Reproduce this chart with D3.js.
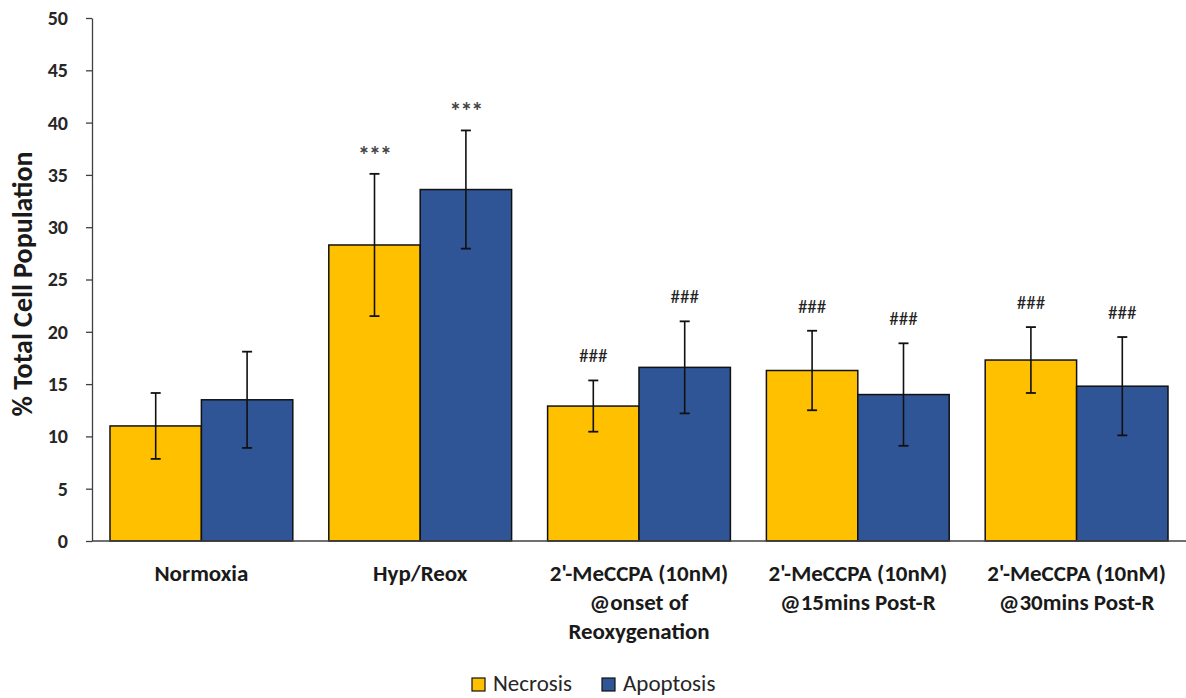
<!DOCTYPE html>
<html><head><meta charset="utf-8">
<script src="https://cdn.jsdelivr.net/npm/d3@7"></script>
<style>
body{margin:0;background:#fff;}
svg text{font-family:Carlito,Calibri,Lato,sans-serif;}
</style></head>
<body><svg id="c" width="1186" height="698"></svg>
<script>
const categories = [
  ["Normoxia"],
  ["Hyp/Reox"],
  ["2'-MeCCPA (10nM)", "@onset of", "Reoxygenation"],
  ["2'-MeCCPA (10nM)", "@15mins Post-R"],
  ["2'-MeCCPA (10nM)", "@30mins Post-R"]
];
const seriesNames = ["Necrosis", "Apoptosis"];
const seriesColors = ["#FFC000", "#2F5597"];
const necrosis = [11.0, 28.3, 12.9, 16.3, 17.3];
const apoptosis = [13.5, 33.6, 16.6, 14.0, 14.8];
const necrosisErr = [3.15, 6.8, 2.45, 3.8, 3.15];
const apoptosisErr = [4.6, 5.65, 4.4, 4.9, 4.7];
const necrosisMark = ["", "***", "###", "###", "###"];
const apoptosisMark = ["", "***", "###", "###", "###"];
const yTicks = [0, 5, 10, 15, 20, 25, 30, 35, 40, 45, 50];

const svg = d3.select("#c");
const mLeft = 92, mRight = 1186, mTop = 18, mBottom = 541;
const FONT = "Carlito,Calibri,Lato,sans-serif";

const x0 = d3.scaleBand().domain(d3.range(categories.length)).range([mLeft, mRight]).paddingInner(0).paddingOuter(0);
const groupPad = 18;
const x1 = d3.scaleBand().domain([0, 1]).range([groupPad, x0.bandwidth() - groupPad]);
const y = d3.scaleLinear().domain([0, 50]).range([mBottom, mTop]);

const data = categories.map((c, i) => ({
  i,
  vals: [
    {s: 0, v: necrosis[i], e: necrosisErr[i], m: necrosisMark[i]},
    {s: 1, v: apoptosis[i], e: apoptosisErr[i], m: apoptosisMark[i]}
  ]
}));

// y axis
const yAxis = d3.axisLeft(y).tickValues(yTicks).tickSize(6).tickSizeOuter(0).tickPadding(18);
const ga = svg.append("g").attr("transform", `translate(${mLeft},0)`).call(yAxis);
ga.select(".domain").attr("stroke", "#404040").attr("stroke-width", 1.3);
ga.selectAll(".tick line").attr("stroke", "#404040").attr("stroke-width", 1.3);
ga.selectAll(".tick text").attr("font-size", 20).attr("font-weight", "bold").attr("fill", "#262626")
  .style("font-family", FONT);

svg.append("text").attr("transform", `translate(32,284) rotate(-90)`)
  .attr("text-anchor", "middle").attr("font-size", 28).attr("font-weight", "bold").attr("fill", "#1a1a1a")
  .text("% Total Cell Population");

// bars
const g = svg.append("g").selectAll("g").data(data).join("g")
  .attr("transform", d => `translate(${x0(d.i)},0)`);
g.selectAll("rect").data(d => d.vals).join("rect")
  .attr("x", d => x1(d.s)).attr("width", x1.bandwidth())
  .attr("y", d => y(d.v)).attr("height", d => y(0) - y(d.v))
  .attr("fill", d => seriesColors[d.s]).attr("stroke", "#111").attr("stroke-width", 1.5);

// error bars
const eb = g.selectAll("g.err").data(d => d.vals).join("g").attr("class", "err");
eb.append("line")
  .attr("x1", d => x1(d.s) + x1.bandwidth() / 2).attr("x2", d => x1(d.s) + x1.bandwidth() / 2)
  .attr("y1", d => y(d.v + d.e)).attr("y2", d => y(d.v - d.e))
  .attr("stroke", "#111").attr("stroke-width", 1.6);
eb.selectAll("line.cap").data(d => [{d, t: d.v + d.e}, {d, t: d.v - d.e}]).join("line").attr("class", "cap")
  .attr("x1", o => x1(o.d.s) + x1.bandwidth() / 2 - 5).attr("x2", o => x1(o.d.s) + x1.bandwidth() / 2 + 5)
  .attr("y1", o => y(o.t)).attr("y2", o => y(o.t))
  .attr("stroke", "#111").attr("stroke-width", 1.8);

// significance marks
eb.append("text")
  .attr("x", d => x1(d.s) + x1.bandwidth() / 2)
  .attr("y", d => y(d.v + d.e) - (d.m === "***" ? 11 : 18))
  .attr("text-anchor", "middle").attr("font-size", d => d.m === "***" ? 24 : 19)
  .attr("font-weight", d => d.m === "***" ? "bold" : "normal")
  .attr("letter-spacing", d => d.m === "***" ? -1 : 0)
  .attr("fill", d => d.m === "***" ? "#444" : "#222").text(d => d.m);

// x axis line
svg.append("line").attr("x1", mLeft).attr("x2", mRight).attr("y1", y(0)).attr("y2", y(0))
  .attr("stroke", "#404040").attr("stroke-width", 1.3);

// x labels
const xl = svg.append("g").selectAll("text").data(categories).join("text")
  .attr("x", (d, i) => x0(i) + x0.bandwidth() / 2).attr("y", 581)
  .attr("text-anchor", "middle").attr("font-size", 23).attr("font-weight", "bold").attr("fill", "#1a1a1a");
xl.selectAll("tspan").data(d => d).join("tspan")
  .attr("x", function() { return this.parentNode.getAttribute("x"); })
  .attr("dy", (d, j) => j === 0 ? 0 : 29).text(d => d);

// legend
const lg = svg.append("g").attr("transform", "translate(472,691)");
const items = lg.selectAll("g").data(seriesNames).join("g")
  .attr("transform", (d, i) => `translate(${i * 130},0)`);
items.append("rect").attr("x", 0).attr("y", -13).attr("width", 13).attr("height", 13)
  .attr("fill", (d, i) => seriesColors[i]).attr("stroke", "#111").attr("stroke-width", 1.2);
items.append("text").attr("x", 21).attr("y", 0).attr("font-size", 23).attr("fill", "#262626").text(d => d);
</script></body></html>
